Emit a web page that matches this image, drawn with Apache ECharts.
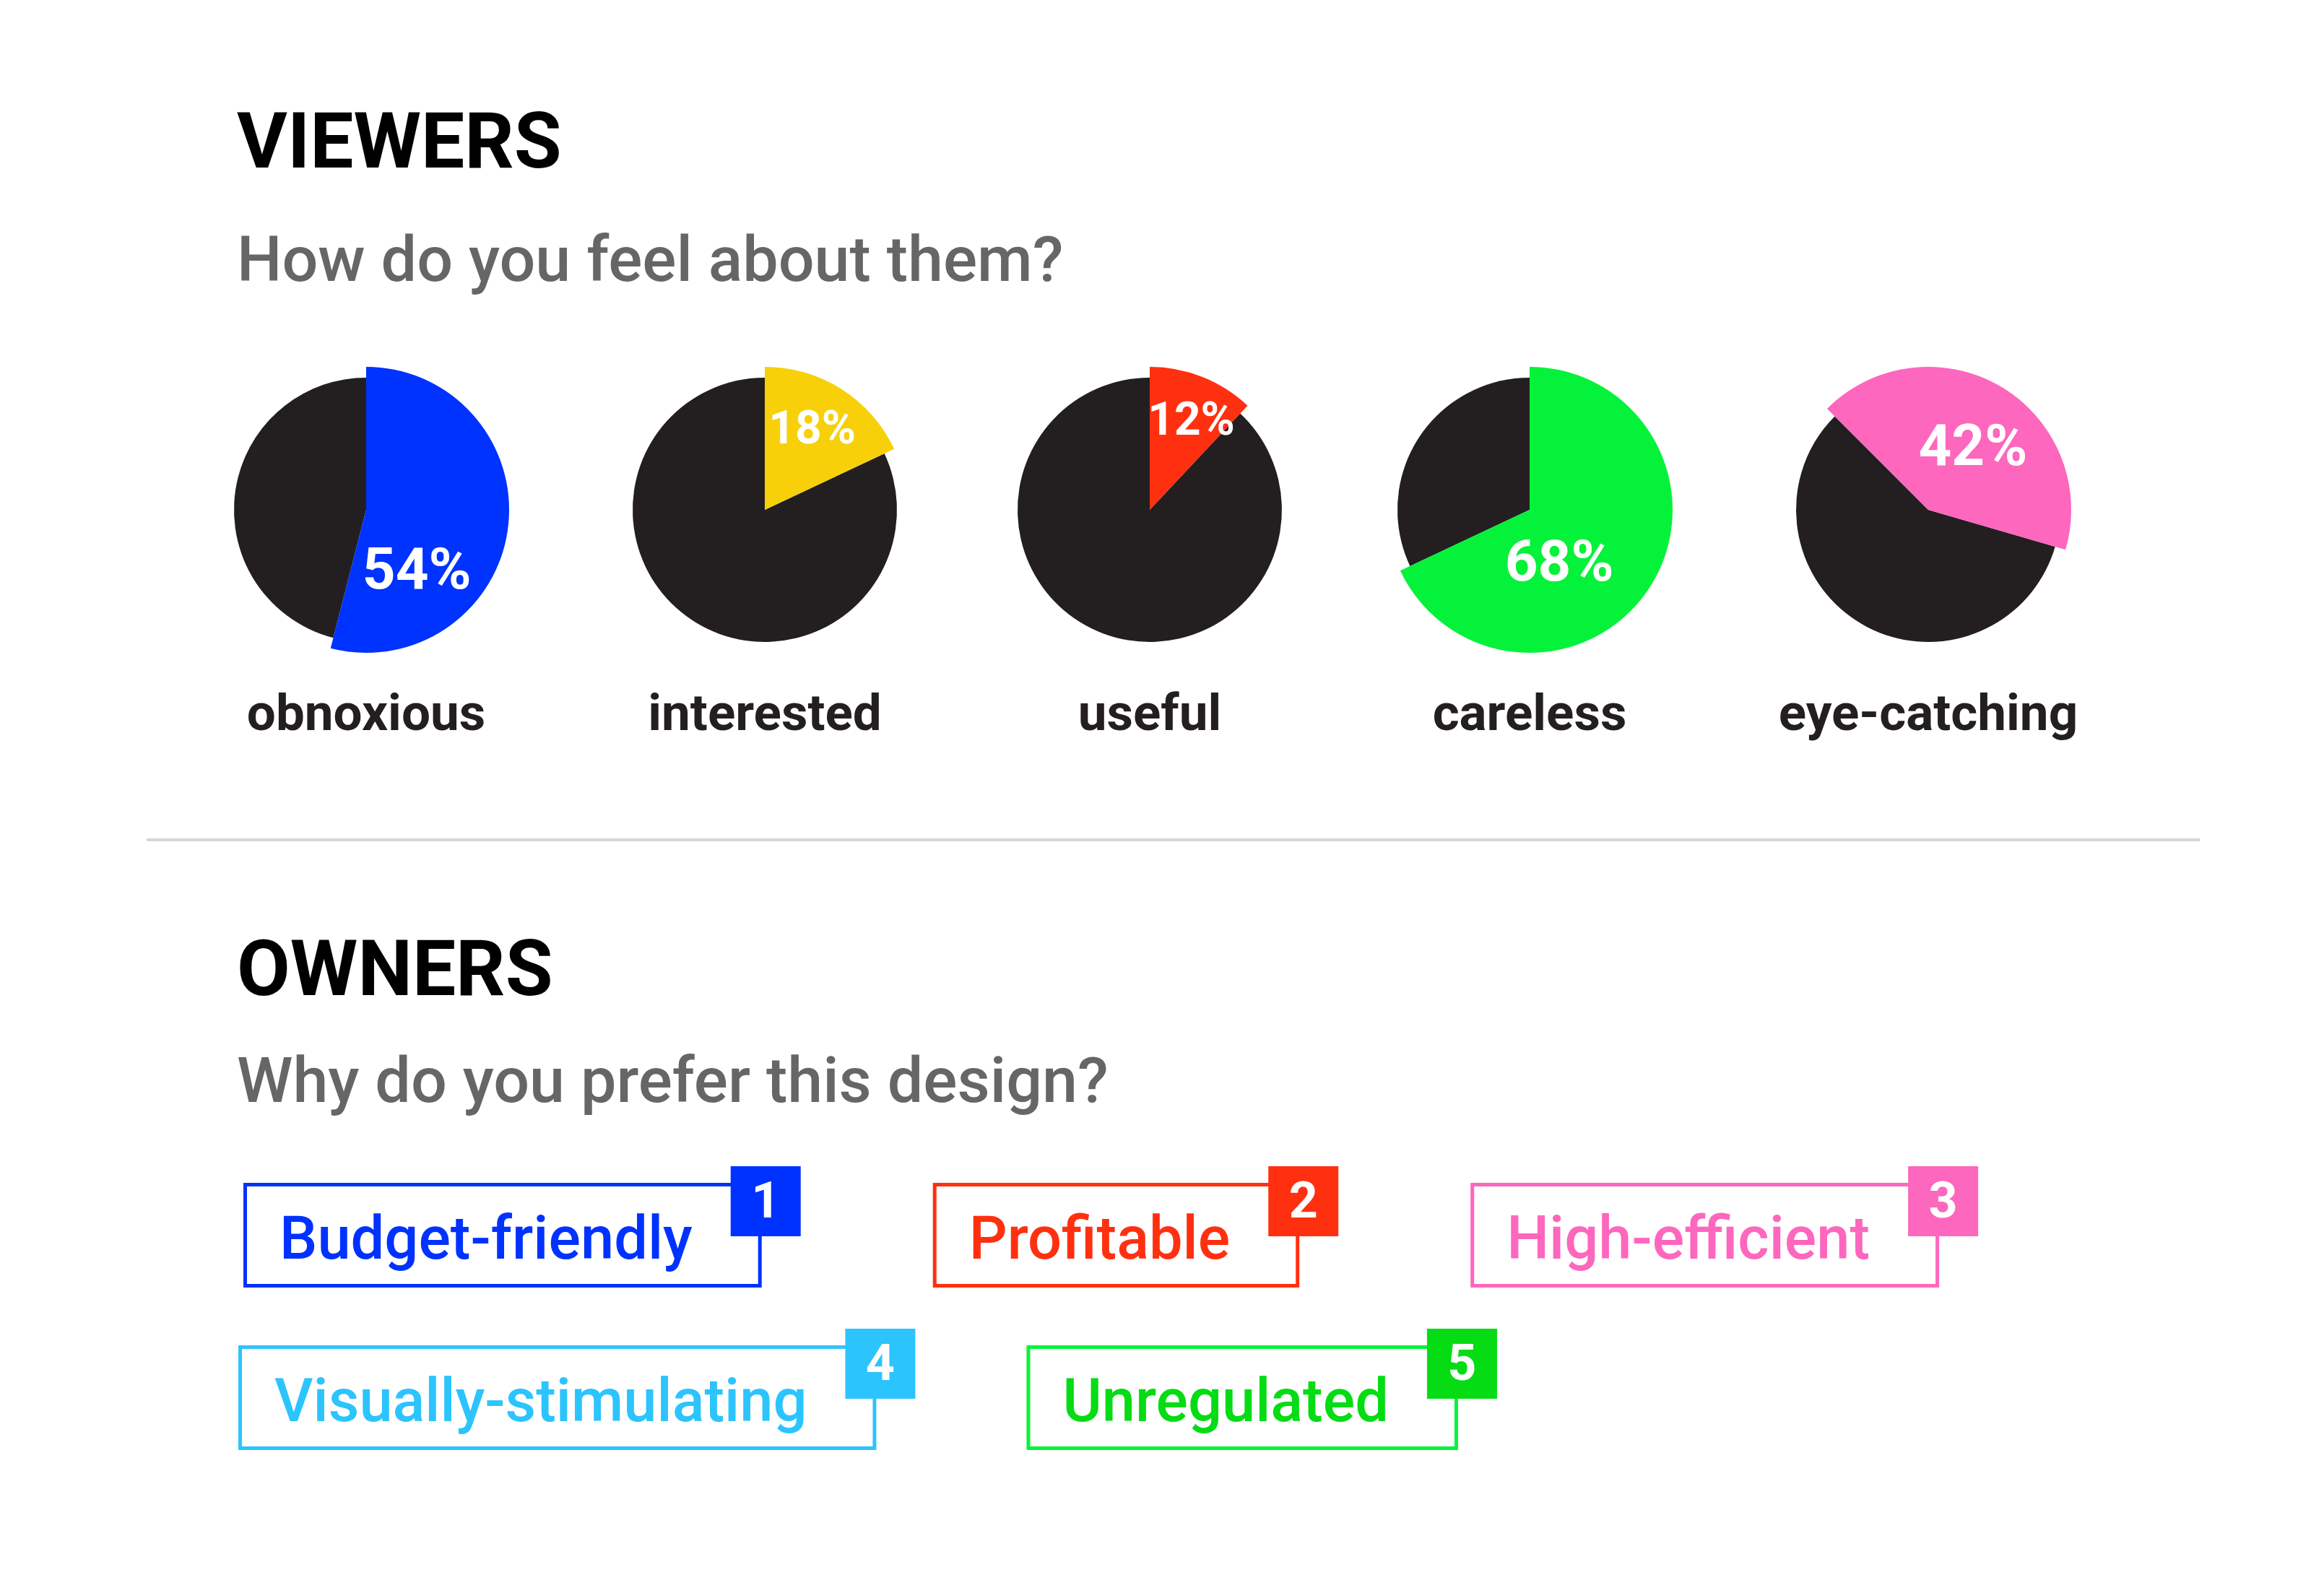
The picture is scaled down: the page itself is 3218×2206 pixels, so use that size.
<!DOCTYPE html>
<html><head><meta charset="utf-8">
<script src="https://cdn.jsdelivr.net/npm/echarts@6/dist/echarts.min.js"></script>
<style>html,body{margin:0;padding:0;background:#fff}#c{width:3218px;height:2206px}</style>
</head><body><div id="c"></div>
<script>
// ---- data ----
const feelings = ['obnoxious', 'interested', 'useful', 'careless', 'eye-catching'];
const feelingShares = [54, 18, 12, 68, 42];
const reasons = ['Budget-friendly', 'Profitable', 'High-efficient', 'Visually-stimulating', 'Unregulated'];
const reasonRanks = [1, 2, 3, 4, 5];
const titles = ['VIEWERS', 'OWNERS'];
const subtitles = ['How do you feel about them?', 'Why do you prefer this design?'];

// ---- layout & style ----
const FONT = 'Roboto';
const DARK = '#231f20';
const pieCX = [507, 1059, 1592, 2118, 2670];
const pieCY = 706;
const rBlack = 183, rColor = 198;
const sliceColors = ['#0033ff', '#f8d00a', '#ff3010', '#05f23a', '#fd67bd'];
const startAngles = [90, 90, 90, 90, 135];
const labelShift = [[-31, 76], [11, -22], [20, -25], [-45, 23], [10, 6]];
const labelSizes = [80, 64, 64, 80, 80];

const boxBorder = ['#0032ff', '#ff3010', '#fd67bd', '#2cc4fd', '#06f43a'];
const boxInk = ['#0032ff', '#ff3010', '#fd67bd', '#2cc4fd', '#05dc14'];
const boxRow = [0, 0, 0, 1, 1];
const rowTop = [1638, 1863];
const rowLeft = [337, 330];
const rowGap = [183, 154];
const boxH = 145, padL = 50, padR = 96, badge = 97;
const boxFontSize = 83;

const chart = echarts.init(document.getElementById('c'), null, {renderer: 'canvas'});

const series = [];
feelings.forEach((name, i) => {
  const v = feelingShares[i];
  const common = {
    type: 'pie', center: [pieCX[i], pieCY], startAngle: startAngles[i], clockwise: true,
    silent: true, animation: false, avoidLabelOverlap: false, emphasis: {disabled: true},
    labelLine: {show: false}
  };
  series.push(Object.assign({}, common, {
    radius: [0, rBlack],
    label: {show: false},
    data: [
      {name: name, value: v, itemStyle: {color: 'rgba(0,0,0,0)'}},
      {name: 'rest', value: 100 - v, itemStyle: {color: DARK}}
    ]
  }));
  series.push(Object.assign({}, common, {
    radius: [0, rColor],
    labelLayout: {dx: labelShift[i][0], dy: labelShift[i][1]},
    data: [
      {name: name, value: v, itemStyle: {color: sliceColors[i]},
       label: {show: true, position: 'inside', formatter: '{c}%', color: '#fff',
               fontFamily: FONT, fontWeight: 'bold', fontSize: labelSizes[i]}},
      {name: 'rest', value: 100 - v, itemStyle: {color: 'rgba(0,0,0,0)'}, label: {show: false}}
    ]
  }));
});

const graphic = [];
// titles
const titleY = [205, 1351], subY = [367, 1504];
titles.forEach((t, i) => {
  graphic.push({type: 'text', x: 328, y: titleY[i], silent: true,
    style: {text: t, fill: '#000', font: 'bold 107px ' + FONT, textAlign: 'left', textVerticalAlign: 'middle'}});
  graphic.push({type: 'text', x: 328, y: subY[i], silent: true,
    style: {text: subtitles[i], fill: '#666666', font: '500 88px ' + FONT, textAlign: 'left', textVerticalAlign: 'middle'}});
});
// divider
graphic.push({type: 'line', silent: true, shape: {x1: 203, y1: 1163, x2: 3046, y2: 1163},
  style: {stroke: '#d6d6d8', lineWidth: 4}});
// category labels under pies
feelings.forEach((name, i) => {
  graphic.push({type: 'text', x: pieCX[i], y: 993, silent: true,
    style: {text: name, fill: DARK, font: 'bold 71px ' + FONT, textAlign: 'center', textVerticalAlign: 'middle'}});
});
// reason boxes
const ctx = document.createElement('canvas').getContext('2d');
ctx.font = '500 ' + boxFontSize + 'px ' + FONT;
const cursor = rowLeft.slice();
reasons.forEach((r, i) => {
  const row = boxRow[i];
  const tw = ctx.measureText(r).width;
  const w = padL + tw + padR;
  const left = cursor[row], top = rowTop[row];
  graphic.push({type: 'rect', silent: true, shape: {x: left + 2.5, y: top + 2.5, width: w - 5, height: boxH - 5},
    style: {fill: 'rgba(0,0,0,0)', stroke: boxBorder[i], lineWidth: 5}});
  graphic.push({type: 'text', silent: true, x: left + padL, y: top + boxH / 2 + 12,
    style: {text: r, fill: boxInk[i], font: '500 ' + boxFontSize + 'px ' + FONT, textAlign: 'left', textVerticalAlign: 'middle'}});
  const bx = left + w - 43, by = top - 23;
  graphic.push({type: 'rect', silent: true, shape: {x: bx, y: by, width: badge, height: badge},
    style: {fill: boxInk[i]}});
  graphic.push({type: 'text', silent: true, x: bx + badge / 2, y: by + badge / 2 + 5,
    style: {text: String(reasonRanks[i]), fill: '#fff', font: 'bold 70px ' + FONT, textAlign: 'center', textVerticalAlign: 'middle'}});
  cursor[row] = left + w - 43 + badge + rowGap[row];
});

chart.setOption({
  backgroundColor: '#ffffff',
  animation: false,
  series: series,
  graphic: graphic
});
</script>
</body></html>
